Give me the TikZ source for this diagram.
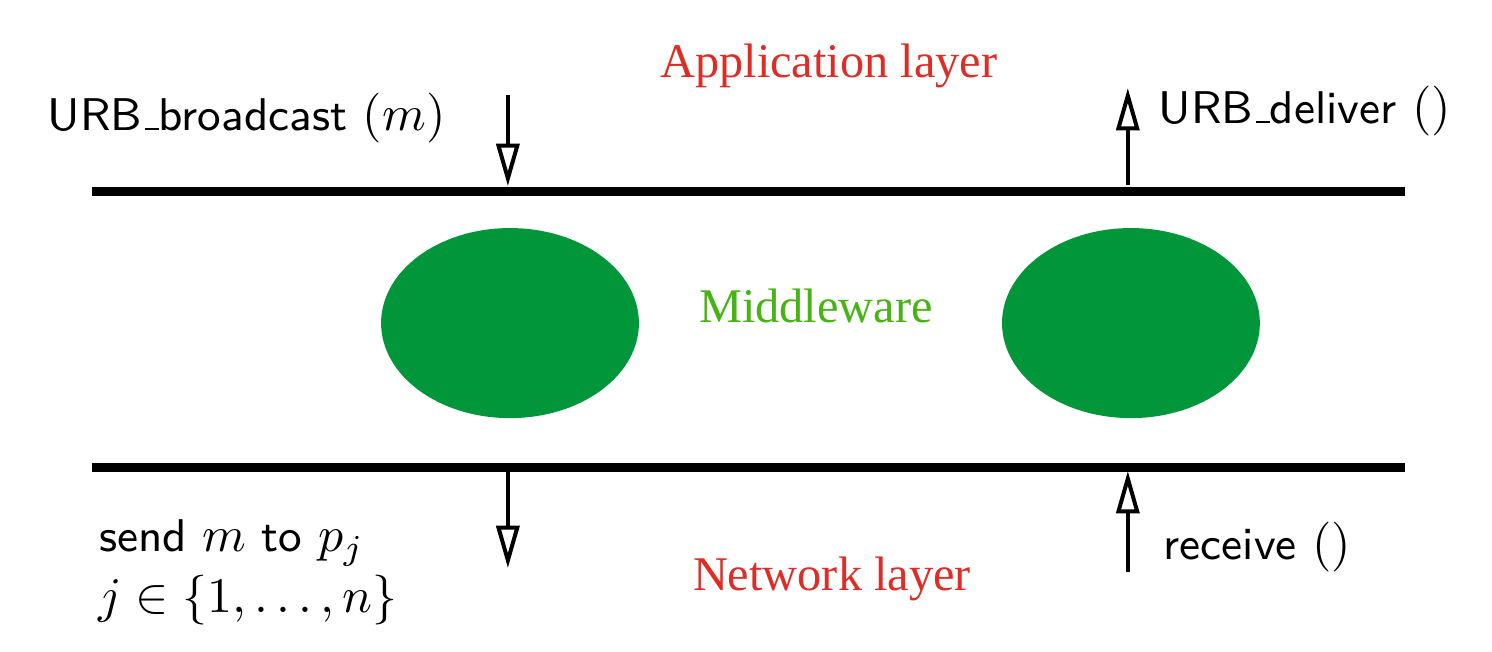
\documentclass[tikz,border=0pt]{standalone}
\usepackage{amsmath}
\usepackage{fontspec}
\usetikzlibrary{arrows.meta}
\newfontfamily\layerfont{Liberation Serif}
\newcommand\lowbar{\leavevmode\kern.06em\vbox{\hrule width.3em}}
\newcommand\mth[1]{{\fontsize{10}{12}\selectfont$#1$}}
\definecolor{leafgreen}{RGB}{0, 150, 57}
\definecolor{limegreen}{RGB}{70, 180, 20}
\definecolor{layerred}{RGB}{222, 45, 38}
\begin{document}
\begin{tikzpicture}[
        bus/.style={line width=1.8pt},
        call/.style={line width=0.8pt, -{Triangle[open, length=8.5pt, width=4.6pt]}},
        label/.style={inner sep=0pt, font=\sffamily\fontsize{9.2}{11}\selectfont},
        layer/.style={inner sep=0pt, text=layerred, font=\layerfont\fontsize{9.7}{12}\selectfont}]
            \useasboundingbox                                             ( 0.00, 0.00) rectangle (10.52, 4.597);
            \coordinate (appL)  at ( 0.649, 3.250);  \coordinate (appR)  at ( 9.905, 3.250);
            \coordinate (netL)  at ( 0.649, 1.304);  \coordinate (netR)  at ( 9.905, 1.304);
            \draw[bus] (appL) -- (appR);
            \draw[bus] (netL) -- (netR);
            \fill[leafgreen]                                              ( 3.596, 2.319) ellipse   (0.909 and 0.670);
            \fill[leafgreen]                                              ( 7.974, 2.319) ellipse   (0.909 and 0.670);
            \coordinate (bcastTop)  at ( 3.581, 3.927);  \coordinate (bcastBus)  at ( 3.581, 3.285);
            \coordinate (delivBus)  at ( 7.952, 3.292);  \coordinate (delivTop)  at ( 7.952, 3.976);
            \coordinate (sendBus)   at ( 3.581, 1.283);  \coordinate (sendBot)   at ( 3.581, 0.592);
            \coordinate (recvBot)   at ( 7.952, 0.564);  \coordinate (recvBus)   at ( 7.952, 1.276);
            \draw[call] (bcastTop) -- (bcastBus);
            \draw[call] (delivBus) -- (delivTop);
            \draw[call] (sendBus)  -- (sendBot);
            \draw[call] (recvBot)  -- (recvBus);
            \node[layer, anchor=base]                (app)   at ( 5.844, 4.050) {Application layer};
            \node[layer, anchor=base, text=limegreen](mid)   at ( 5.753, 2.320) {Middleware};
            \node[layer, anchor=base]                (net)   at ( 5.866, 0.437) {Network layer};
            \node[label, anchor=base west]           (bcast) at ( 0.331, 3.680) {URB\lowbar broadcast \mth{(m)}};
            \node[label, anchor=base west]           (deliv) at ( 8.164, 3.729) {URB\lowbar deliver \mth{()}};
            \node[label, anchor=base west]           (send)  at ( 0.691, 0.705) {send \mth{m} to \mth{p_j}};
            \node[label, anchor=base west]           (range) at ( 0.684, 0.275) {\mth{j \in \{1, \ldots, n\}}};
            \node[label, anchor=base west]           (recv)  at ( 8.199, 0.649) {receive \mth{()}};
        \end{tikzpicture}
\end{document}
